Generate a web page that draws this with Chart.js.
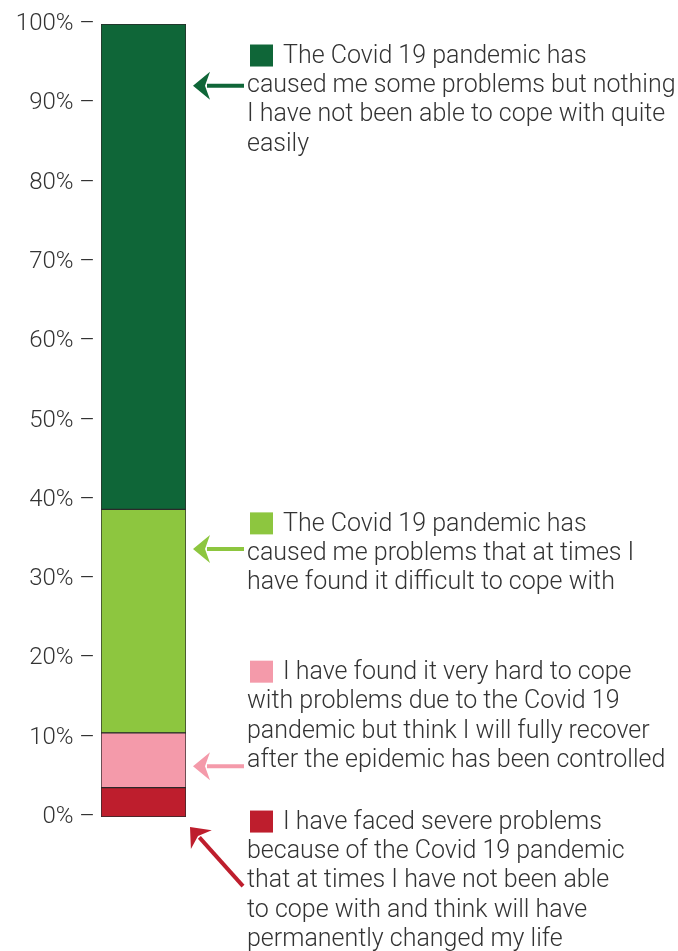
<!DOCTYPE html>
<html>
<head>
<meta charset="utf-8">
<script src="https://cdn.jsdelivr.net/npm/chart.js@4.4.1/dist/chart.umd.min.js"></script>
<style>
  html, body { margin: 0; padding: 0; background: #fff; }
  #wrap { width: 678px; height: 951px; position: relative; }
</style>
</head>
<body>
<div id="wrap"><canvas id="chart"></canvas></div>
<script>
// one stacked column, bottom to top
const categories = ['All respondents'];
const seriesNames = [
  'Severe problems, life permanently changed',
  'Very hard to cope, expect full recovery',
  'Problems at times difficult to cope with',
  'Some problems, coped quite easily'
];
const seriesValues = [3.7, 6.9, 28.2, 61.2];
const seriesColors = ['#be1e2d', '#f49aaa', '#8dc63f', '#0f6638'];
const tickValues = [0, 10, 20, 30, 40, 50, 60, 70, 80, 90, 100];

// side notes, same order as the series
const noteLines = [
  ['I have faced severe problems', 'because of the Covid 19 pandemic', 'that at times I have not been able', 'to cope with and think will have', 'permanently changed my life'],
  ['I have found it very hard to cope', 'with problems due to the Covid 19', 'pandemic but think I will fully recover', 'after the epidemic has been controlled'],
  ['The Covid 19 pandemic has', 'caused me problems that at times I', 'have found it difficult to cope with'],
  ['The Covid 19 pandemic has', 'caused me some problems but nothing', 'I have not been able to cope with quite', 'easily']
];

const FONT = 'Roboto, "Helvetica Neue", "Liberation Sans", Arial, sans-serif';
const TEXT = '#333333';

// note placement: first-line centre (in % on the y scale) and where the arrow points
const noteLayout = [
  { at: -0.7, arrow: 'diag' },
  { at: 18.2, arrowAt: 6.4 },
  { at: 36.9, arrowAt: 33.8 },
  { at: 95.9, arrowAt: 92.2 }
];

function drawArrow(ctx, x1, y1, x2, y2, color) {
  // shaft from (x1,y1) to tip (x2,y2)
  const ang = Math.atan2(y2 - y1, x2 - x1);
  const headLen = 17, headHalf = 14;
  const bx = x2 - Math.cos(ang) * headLen, by = y2 - Math.sin(ang) * headLen;
  ctx.save();
  ctx.strokeStyle = color;
  ctx.fillStyle = color;
  ctx.lineWidth = 4;
  ctx.beginPath();
  ctx.moveTo(x1, y1);
  ctx.lineTo(bx + Math.cos(ang) * 3, by + Math.sin(ang) * 3);
  ctx.stroke();
  ctx.beginPath();
  ctx.moveTo(x2, y2);
  ctx.lineTo(bx - Math.sin(ang) * headHalf, by + Math.cos(ang) * headHalf);
  ctx.lineTo(bx + Math.cos(ang) * 5, by + Math.sin(ang) * 5);
  ctx.lineTo(bx + Math.sin(ang) * headHalf, by - Math.cos(ang) * headHalf);
  ctx.closePath();
  ctx.fill();
  ctx.restore();
}

const notesPlugin = {
  id: 'notes',
  afterDraw(chart) {
    const ctx = chart.ctx;
    const y = chart.scales.y;
    const textX = 247, lineH = 29.3;
    ctx.save();
    ctx.font = '300 25px ' + FONT;
    ctx.textBaseline = 'middle';
    ctx.textAlign = 'left';
    noteLines.forEach((lines, i) => {
      const lay = noteLayout[i];
      const y0 = y.getPixelForValue(lay.at);
      // colour key square
      ctx.fillStyle = seriesColors[i];
      ctx.fillRect(textX + 3, y0 - 12, 23, 22);
      ctx.fillStyle = TEXT;
      lines.forEach((ln, k) => {
        const x = k === 0 ? textX + 36 : textX;
        ctx.fillText(ln, x, y0 + k * lineH);
      });
      if (lay.arrow === 'diag') {
        drawArrow(ctx, 243, y0 + 2 * lineH + 5, 190, y.getPixelForValue(0) + 10, seriesColors[i]);
      } else {
        const ay = y.getPixelForValue(lay.arrowAt);
        drawArrow(ctx, 244, ay, 193, ay, seriesColors[i]);
      }
    });
    ctx.restore();
  }
};

new Chart(document.getElementById('chart'), {
  type: 'bar',
  data: {
    labels: categories,
    datasets: seriesNames.map((name, i) => ({
      label: name,
      data: [seriesValues[i]],
      backgroundColor: seriesColors[i],
      borderColor: '#2a2a2a',
      borderWidth: 1,
      borderSkipped: false,
      barPercentage: 1,
      categoryPercentage: 1
    }))
  },
  options: {
    responsive: true,
    maintainAspectRatio: false,
    animation: false,
    layout: { padding: { left: 0, right: 492, top: 24, bottom: 134 } },
    plugins: { legend: { display: false }, tooltip: { enabled: false } },
    scales: {
      x: { stacked: true, display: false },
      y: {
        stacked: true,
        min: 0,
        max: 100,
        afterBuildTicks(scale) { scale.ticks = tickValues.map(v => ({ value: v })); },
        afterFit(scale) { scale.width = 101; },
        grid: { display: false, drawTicks: false },
        border: { display: false },
        ticks: {
          color: TEXT,
          padding: 6,
          font: { family: FONT, size: 24, weight: 300 },
          callback: v => v + '% \u2013'
        }
      }
    }
  },
  plugins: [notesPlugin]
});
</script>
</body>
</html>
